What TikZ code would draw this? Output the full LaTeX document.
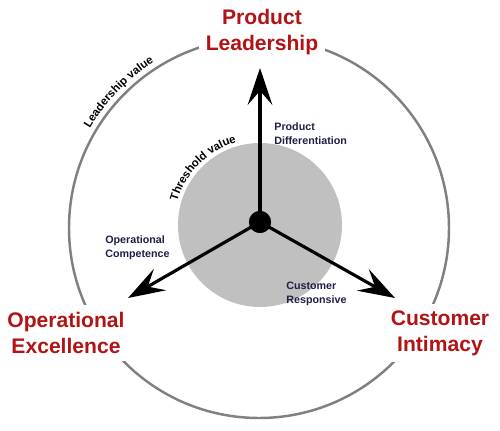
\documentclass[tikz,border=0pt]{standalone}
\usepackage{fontspec}
\setmainfont{Liberation Sans}
\usetikzlibrary{arrows.meta, decorations.text}
\definecolor{rojo}{RGB}{178,20,22}
\definecolor{azul}{RGB}{30,30,70}
\definecolor{gris}{RGB}{192,192,192}
\definecolor{borde}{RGB}{128,128,128}
\begin{document}
\begin{tikzpicture}[x=0.02cm, y=0.02cm,
  titulo/.style={fill=white, text=rojo, font=\fontsize{12}{14.7}\selectfont\bfseries, align=center, inner sep=4pt},
  etiqueta/.style={text=azul, font=\fontsize{6.1}{7.8}\selectfont\bfseries, align=left, anchor=west, inner sep=0pt},
  flecha/.style={line width=1.8pt, -{Stealth[length=21pt, width=14pt, inset=8pt]}}]
\useasboundingbox (-259,-202) rectangle (241,228);

% Circulo exterior y disco gris del valor umbral
\draw[borde, line width=1.4pt] (0,0) circle[radius=190];
\fill[gris] (1,3) circle[radius=82];

% Textos curvos sobre los circulos
\path[decorate, decoration={text along path, text align=center,
  text={|\fontsize{6.5}{7}\selectfont\bfseries|Leadership value}}]
  (152:196) arc[start angle=152, end angle=120, radius=196];
\path[decorate, decoration={text along path, text align=center,
  text={|\fontsize{6.5}{7}\selectfont\bfseries|Threshold value}}]
  ([shift={(1,3)}]170:86) arc[start angle=170, end angle=100, radius=86];

% Puntas de las flechas
\coordinate (tipPL) at (1,160);
\coordinate (tipOE) at (-131,-70);
\coordinate (tipCI) at (136,-70);

% Flechas desde el centro
\node[circle, fill=black, minimum size=12.5pt, inner sep=0pt] (hub) at (1,6) {};
\draw[flecha] (hub.center) -- (tipPL);
\draw[flecha] (hub.center) -- (tipOE);
\draw[flecha] (hub.center) -- (tipCI);
\node[circle, fill=black, minimum size=12.5pt, inner sep=0pt] at (hub) {};

% Titulos de las tres disciplinas
\node[titulo] (pl) at (3,196) {Product\\Leadership};
\node[titulo] (oe) at (-193,-105) {Operational\\Excellence};
\node[titulo] (ci) at (181,-105) {Customer\\Intimacy};

% Etiquetas de las flechas
\node[etiqueta] (pd) at (15,94) {Product\\Differentiation};
\node[etiqueta] (oc) at (-154,-20) {Operational\\Competence};
\node[etiqueta] (cr) at (27,-66) {Customer\\Responsive};
\end{tikzpicture}
\end{document}
